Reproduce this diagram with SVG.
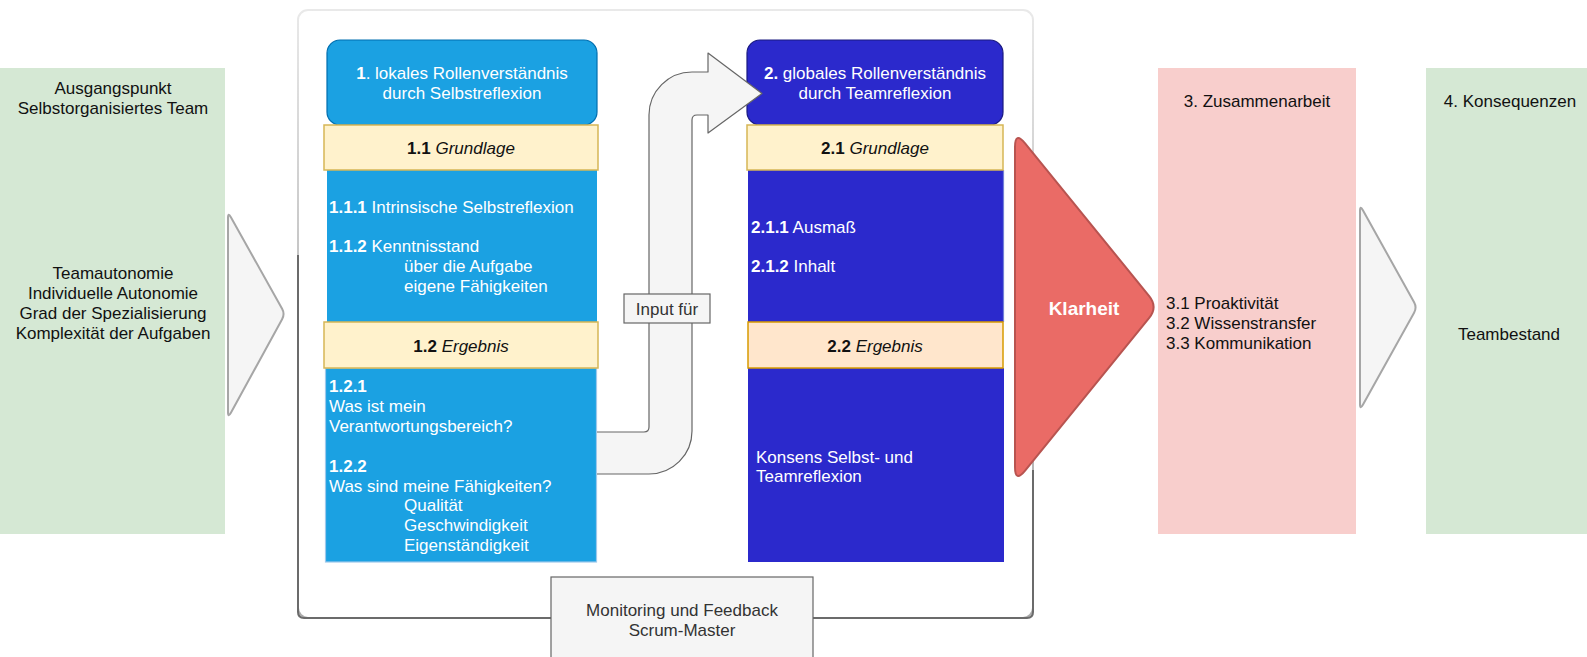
<svg xmlns="http://www.w3.org/2000/svg" width="1587" height="657" viewBox="0 0 1587 657">
  <defs>
    <linearGradient id="frameStroke" gradientUnits="userSpaceOnUse" x1="0" y1="10" x2="0" y2="618">
      <stop offset="0" stop-color="#e9e9e9"/>
      <stop offset="0.4" stop-color="#c6c6c6"/>
      <stop offset="1" stop-color="#ababab"/>
    </linearGradient>
  </defs>
  <style>
    text { font-family: "Liberation Sans", Arial, Helvetica, sans-serif; font-size: 17px; }
    .c { text-anchor: middle; }
    .w { fill: #ffffff; }
    .k { fill: #111111; }
    .g { fill: #333333; }
    .b { font-weight: bold; }
    .i { font-style: italic; }
    .green { fill: #d5e8d4; }
    .pink { fill: #f8cecc; }
    .grey-arrow { fill: #f5f5f5; stroke: #a6a6a6; stroke-width: 2; stroke-linejoin: round; }
    .label { fill: #f5f5f5; stroke: #666666; stroke-width: 1.2; }
    .band-y { fill: #fff2cc; stroke: #d6b656; stroke-width: 1.5; }
    .band-o { fill: #ffe6cc; stroke: #d79b00; stroke-width: 1.5; }
    .body1 { fill: #1ba1e2; }
    .body2 { fill: #2b29cc; }
    .link { fill: none; stroke: #6b6b6b; stroke-width: 2; }
  </style>

  <!-- outer frame around the two reflection columns -->
  <rect id="frame" x="298" y="10" width="735" height="608" rx="10" fill="#ffffff" stroke="url(#frameStroke)" stroke-width="2"/>

  <!-- connectors -->
  <g id="connectors">
    <path class="link" d="M551,618 H304 Q298,618 298,612 V255"/>
    <path class="link" d="M813,618 H1027 Q1033,618 1033,612 V470"/>
    <path class="grey-arrow" d="M228,218 Q228,212 230.9,217.2 L282.1,308.8 Q285,314 282.1,319.2 L230.9,412.8 Q228,418 228,412 Z"/>
    <path class="grey-arrow" d="M1360,211 Q1360,205 1362.9,210.2 L1414.1,302.3 Q1417,307.5 1414.1,312.7 L1362.9,404.8 Q1360,410 1360,404 Z"/>
  </g>

  <!-- starting point -->
  <g id="start">
    <rect class="green" x="0" y="68" width="225" height="466"/>
    <text class="c k" x="113" y="94">Ausgangspunkt</text>
    <text class="c k" x="113" y="114">Selbstorganisiertes Team</text>
    <text class="c k" x="113" y="279">Teamautonomie</text>
    <text class="c k" x="113" y="299">Individuelle Autonomie</text>
    <text class="c k" x="113" y="319">Grad der Spezialisierung</text>
    <text class="c k" x="113" y="339">Komplexität der Aufgaben</text>
  </g>

  <!-- column 1: local role understanding -->
  <g id="local">
    <rect class="body1" x="327" y="170" width="270" height="152"/>
    <rect class="body1" x="325.5" y="368" width="271" height="194" stroke="#9dc8ec" stroke-width="1.2"/>
    <rect x="327" y="40" width="270" height="85" rx="13" fill="#1ba1e2" stroke="#006eaf" stroke-width="1.2"/>
    <text class="c w" x="462" y="79"><tspan class="b">1</tspan>. lokales Rollenverständnis</text>
    <text class="c w" x="462" y="99">durch Selbstreflexion</text>
    <rect class="band-y" x="324" y="125" width="274" height="45"/>
    <text class="c k" x="461" y="154"><tspan class="b">1.1</tspan> <tspan class="i">Grundlage</tspan></text>
    <text class="w" x="329" y="213"><tspan class="b">1.1.1</tspan> Intrinsische Selbstreflexion</text>
    <text class="w" x="329" y="252"><tspan class="b">1.1.2</tspan> Kenntnisstand</text>
    <text class="w" x="404" y="272">über die Aufgabe</text>
    <text class="w" x="404" y="292">eigene Fähigkeiten</text>
    <rect class="band-y" x="324" y="322" width="274" height="46"/>
    <text class="c k" x="461" y="352"><tspan class="b">1.2</tspan> <tspan class="i">Ergebnis</tspan></text>
    <text class="w b" x="329" y="392">1.2.1</text>
    <text class="w" x="329" y="412">Was ist mein</text>
    <text class="w" x="329" y="432">Verantwortungsbereich?</text>
    <text class="w b" x="329" y="472">1.2.2</text>
    <text class="w" x="329" y="492">Was sind meine Fähigkeiten?</text>
    <text class="w" x="404" y="511">Qualität</text>
    <text class="w" x="404" y="531">Geschwindigkeit</text>
    <text class="w" x="404" y="551">Eigenständigkeit</text>
  </g>

  <!-- column 2: global role understanding -->
  <g id="global">
    <rect class="body2" x="748" y="170" width="256" height="152"/>
    <rect class="body2" x="748" y="368" width="256" height="194"/>
    <line x1="1003.5" y1="170" x2="1003.5" y2="322" stroke="#7480d8" stroke-width="1.2"/>
    <rect x="747" y="40" width="256" height="85" rx="13" fill="#2b29cc" stroke="#1a1a80" stroke-width="1.2"/>
    <text class="c w" x="875" y="79"><tspan class="b">2.</tspan> globales Rollenverständnis</text>
    <text class="c w" x="875" y="99">durch Teamreflexion</text>
    <rect class="band-y" x="747" y="125" width="256" height="45"/>
    <text class="c k" x="875" y="154"><tspan class="b">2.1</tspan> <tspan class="i">Grundlage</tspan></text>
    <text class="w" x="751" y="233"><tspan class="b">2.1.1</tspan> Ausmaß</text>
    <text class="w" x="751" y="272"><tspan class="b">2.1.2</tspan> Inhalt</text>
    <rect class="band-o" x="748" y="322" width="255" height="46"/>
    <text class="c k" x="875" y="352"><tspan class="b">2.2</tspan> <tspan class="i">Ergebnis</tspan></text>
    <text class="w" x="756" y="463">Konsens Selbst- und</text>
    <text class="w" x="756" y="482">Teamreflexion</text>
  </g>

  <!-- bent arrow from result 1 into column 2 -->
  <g id="input-arrow">
    <path d="M597,432 H644 Q649,432 649,427 V115 A43,43 0 0 1 692,72 H708 V53 L762,93.5 L708,133 V115 H697 Q692,115 692,120 V431 A43,43 0 0 1 649,474 H597" fill="#f5f5f5" stroke="#666666" stroke-width="1.2" stroke-linejoin="round"/>
  </g>
  <g id="input-label">
    <rect class="label" x="624" y="294" width="86" height="29"/>
    <text class="c g" x="667" y="315">Input für</text>
  </g>

  <!-- clarity -->
  <g id="klarheit">
    <path d="M1015,147 Q1015,131 1025.1,143.4 L1149.2,296.1 Q1158,307 1149.2,317.9 L1025.1,470.6 Q1015,483 1015,467 Z" fill="#ea6b66" stroke="#b85450" stroke-width="2" stroke-linejoin="round"/>
    <text class="c w b" x="1084" y="315" style="font-size:19px">Klarheit</text>
  </g>

  <!-- collaboration -->
  <g id="zusammenarbeit">
    <rect class="pink" x="1158" y="68" width="198" height="466"/>
    <text class="c k" x="1257" y="107">3. Zusammenarbeit</text>
    <text class="k" x="1166" y="309">3.1 Proaktivität</text>
    <text class="k" x="1166" y="329">3.2 Wissenstransfer</text>
    <text class="k" x="1166" y="349">3.3 Kommunikation</text>
  </g>

  <!-- consequences -->
  <g id="konsequenzen">
    <rect class="green" x="1426" y="68" width="161" height="466"/>
    <text class="c k" x="1510" y="107">4. Konsequenzen</text>
    <text class="c k" x="1509" y="340">Teambestand</text>
  </g>

  <!-- monitoring -->
  <g id="monitoring">
    <rect class="label" x="551" y="577" width="262" height="90"/>
    <text class="c g" x="682" y="616">Monitoring und Feedback</text>
    <text class="c g" x="682" y="636">Scrum-Master</text>
  </g>
</svg>
